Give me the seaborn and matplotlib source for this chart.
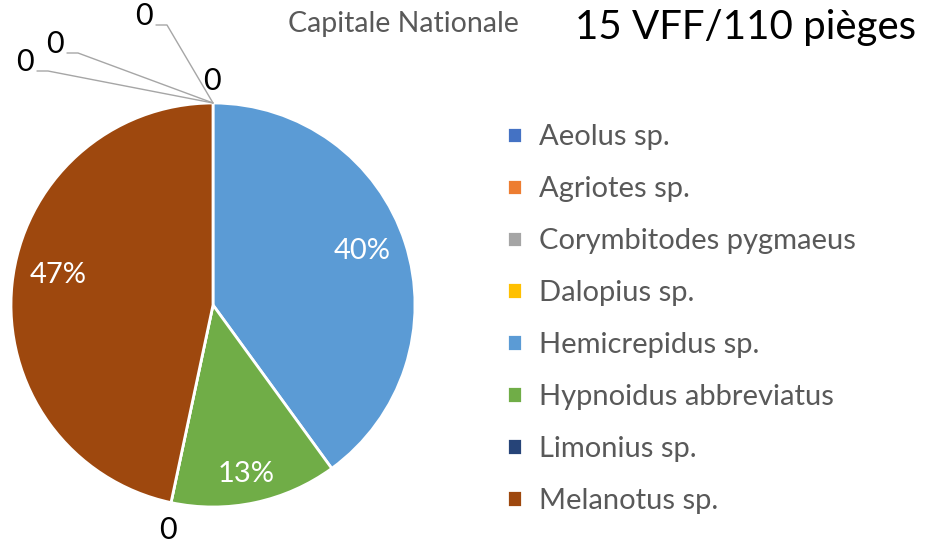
import numpy as np
import matplotlib
matplotlib.use('Agg')
import matplotlib.pyplot as plt
import matplotlib.transforms as mtransforms
from matplotlib.lines import Line2D
import seaborn as sns

# Data: number of traps per species (15 VFF)
species = ['Aeolus sp.', 'Agriotes sp.', 'Corymbitodes pygmaeus', 'Dalopius sp.',
           'Hemicrepidus sp.', 'Hypnoidus abbreviatus', 'Limonius sp.', 'Melanotus sp.']
counts = [0, 0, 0, 0, 6, 2, 0, 7]
colors = ['#4472C4', '#ED7D31', '#A5A5A5', '#FFC000',
          '#5B9BD5', '#70AD47', '#264478', '#9E480E']

# label offsets (pixels, y down) for the empty slices, in slice order
zero_offsets = {0: (-176, -32), 1: (-146, -50), 2: (-57, -78), 3: (-1, -22), 6: (-3, 27)}
# small nudges (pixels, y down) of the percentage labels
pct_nudge = {4: (-3, -5), 5: (0, 13), 7: (4, -13)}

sns.set_theme(style='white')
plt.rcParams['font.family'] = ['Lato', 'DejaVu Sans']

fig = plt.figure(figsize=(9.38, 5.49), dpi=100)
ax = fig.add_axes([11 / 938, 42 / 549, 404 / 938, 404 / 549])

palette = sns.color_palette(colors)


def fmt(p):
    return '' if p < 0.5 else f'{p:.0f}%'


wedges, _, autotexts = ax.pie(counts, colors=palette, startangle=90, counterclock=False,
                              autopct=fmt, pctdistance=0.79, labels=None,
                              wedgeprops=dict(edgecolor='white', linewidth=2))
for i, t in enumerate(autotexts):
    t.set_color('white')
    t.set_fontsize(21)
    if i in pct_nudge:
        nx, ny = pct_nudge[i]
        t.set_transform(mtransforms.offset_copy(ax.transData, fig=fig, x=nx, y=-ny,
                                                units='dots'))
ax.set_xlim(-1, 1)
ax.set_ylim(-1, 1)

# labels for empty slices
for i, c in enumerate(counts):
    if c != 0:
        continue
    ang = np.deg2rad(wedges[i].theta1)
    px, py = ax.transData.transform((np.cos(ang), np.sin(ang)))
    dx, dy = zero_offsets[i]
    lx, ly = px + dx, py - dy
    if i in (0, 1, 2):
        fig.add_artist(Line2D([px, lx + 11, lx], [py, ly, ly], transform=None,
                              color='#A6A6A6', lw=1))
        fig.text(lx - 3, ly + 9, '0', transform=None, fontsize=22,
                 ha='right', va='center', color='black')
    else:
        fig.text(lx, ly, '0', transform=None, fontsize=22,
                 ha='center', va='center', color='black')

fig.text(403 / 938, 1 - 24 / 549, 'Capitale Nationale', fontsize=20.5,
         color='#595959', ha='center', va='center')
fig.text(746 / 938, 1 - 28 / 549, '15 VFF/110 pièges', fontsize=29,
         color='black', ha='center', va='center')

leg = fig.legend(wedges, species, loc='upper left', bbox_to_anchor=(481 / 938, 1 - 98 / 549),
                 frameon=False, fontsize=21, handlelength=0.5, handleheight=0.5,
                 handletextpad=0.6, labelspacing=0.89, labelcolor='#595959')

fig.savefig('out.png', dpi=100)
